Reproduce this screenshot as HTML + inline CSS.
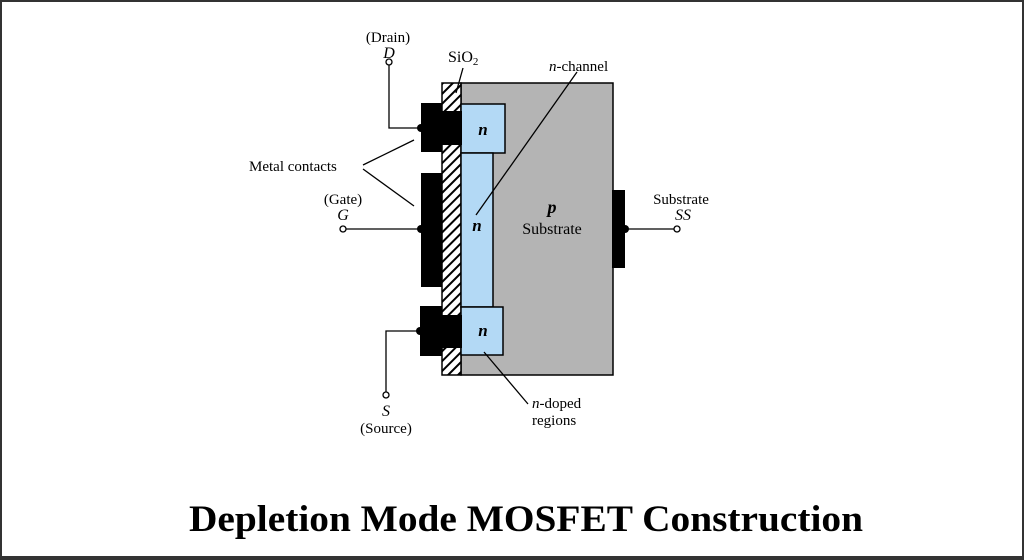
<!DOCTYPE html>
<html><head><style>
html,body{margin:0;padding:0;background:#fff;}
svg{display:block;}
</style></head><body>
<svg width="1024" height="560" viewBox="0 0 1024 560" xmlns="http://www.w3.org/2000/svg">
<defs>
<pattern id="h" patternUnits="userSpaceOnUse" width="7" height="7" patternTransform="rotate(45)">
<rect width="7" height="7" fill="#fff"/><rect width="2" height="7" fill="#000"/>
</pattern>
</defs>
<rect x="1" y="1" width="1022" height="557" fill="#fff" stroke="#333" stroke-width="2"/>
<rect x="0" y="556" width="1024" height="4" fill="#333"/>
<rect x="461" y="83" width="152" height="292" fill="#b4b4b4" stroke="#000" stroke-width="1.5"/>
<rect x="442" y="83" width="19" height="292" fill="url(#h)" stroke="#000" stroke-width="1.5"/>
<rect x="461" y="104" width="44" height="49" fill="#b3d9f5" stroke="#000" stroke-width="1.5"/>
<rect x="461" y="153" width="32" height="154" fill="#b3d9f5" stroke="#000" stroke-width="1.5"/>
<rect x="461" y="307" width="42" height="48" fill="#b3d9f5" stroke="#000" stroke-width="1.5"/>
<rect x="421" y="103" width="21" height="49" fill="#000"/>
<rect x="440" y="111" width="22" height="34" fill="#000"/>
<rect x="421" y="173" width="21" height="114" fill="#000"/>
<rect x="420" y="306" width="22" height="50" fill="#000"/>
<rect x="440" y="315" width="22" height="33" fill="#000"/>
<rect x="612" y="190" width="13" height="78" fill="#000"/>
<circle cx="421" cy="128" r="4" fill="#000"/>
<circle cx="421" cy="229" r="4" fill="#000"/>
<circle cx="420" cy="331" r="4" fill="#000"/>
<circle cx="625" cy="229" r="4" fill="#000"/>
<g stroke="#000" stroke-width="1.3" fill="none">
<polyline points="389,65 389,128 421,128"/>
<line x1="346" y1="229" x2="421" y2="229"/>
<polyline points="386,392 386,331 420,331"/>
<line x1="625" y1="229" x2="674" y2="229"/>
<line x1="363" y1="165" x2="414" y2="140"/>
<line x1="363" y1="169" x2="414" y2="206"/>
<line x1="456" y1="93" x2="463" y2="68"/>
<line x1="476" y1="215" x2="577" y2="72"/>
<line x1="484" y1="352" x2="528" y2="404"/>
</g>
<g fill="#fff" stroke="#000" stroke-width="1.3">
<circle cx="389" cy="62" r="3"/><circle cx="343" cy="229" r="3"/>
<circle cx="386" cy="395" r="3"/><circle cx="677" cy="229" r="3"/>
</g>
<g font-family="Liberation Serif, serif" font-size="15" fill="#000">
<text x="388" y="42" text-anchor="middle">(Drain)</text>
<text x="389" y="58" text-anchor="middle" font-style="italic" font-size="16">D</text>
<text x="448" y="62" font-size="16">SiO<tspan font-size="11" dy="3">2</tspan></text>
<text x="549" y="71"><tspan font-style="italic">n</tspan>-channel</text>
<text x="249" y="171">Metal contacts</text>
<text x="343" y="204" text-anchor="middle">(Gate)</text>
<text x="343" y="220" text-anchor="middle" font-style="italic" font-size="16">G</text>
<text x="483" y="135" text-anchor="middle" font-style="italic" font-weight="bold" font-size="17">n</text>
<text x="477" y="231" text-anchor="middle" font-style="italic" font-weight="bold" font-size="17">n</text>
<text x="483" y="336" text-anchor="middle" font-style="italic" font-weight="bold" font-size="17">n</text>
<text x="552" y="213" text-anchor="middle" font-style="italic" font-weight="bold" font-size="18">p</text>
<text x="552" y="234" text-anchor="middle" font-size="16">Substrate</text>
<text x="681" y="204" text-anchor="middle">Substrate</text>
<text x="683" y="220" text-anchor="middle" font-style="italic" font-size="16">SS</text>
<text x="386" y="416" text-anchor="middle" font-style="italic" font-size="16">S</text>
<text x="386" y="433" text-anchor="middle">(Source)</text>
<text x="532" y="408"><tspan font-style="italic">n</tspan>-doped</text>
<text x="532" y="425">regions</text>
</g>
<text x="526" y="531" text-anchor="middle" font-family="Liberation Serif, serif" font-weight="bold" font-size="37" textLength="674" lengthAdjust="spacingAndGlyphs">Depletion Mode MOSFET Construction</text>
</svg>
</body></html>
